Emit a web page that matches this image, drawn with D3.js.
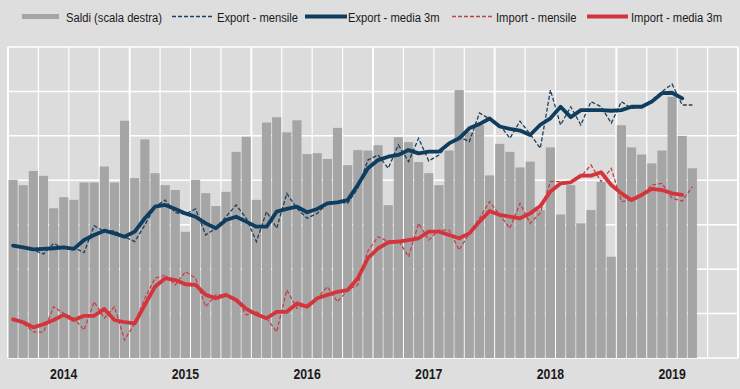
<!DOCTYPE html>
<html>
<head>
<meta charset="utf-8">
<script src="https://cdn.jsdelivr.net/npm/d3@7"></script>
<style>
    html, body { margin: 0; padding: 0; background: #dedede; }
    svg { display: block; }
    text { font-family: "Liberation Sans", Arial, sans-serif; fill: #1a1a1a; }
</style>
</head>
<body>
<div id="chart"></div>
<script>
const years = ["2014", "2015", "2016", "2017", "2018", "2019"];

const saldi = [
    4.01, 3.89, 4.21, 4.10, 3.37, 3.62, 3.56, 3.95, 3.95, 4.31, 3.95, 5.34,
    4.05, 4.92, 4.16, 3.89, 3.78, 2.84, 4.01, 3.71, 3.42, 3.74, 4.64, 4.98,
    3.56, 5.30, 5.42, 5.08, 5.35, 4.59, 4.61, 4.48, 5.18, 4.34, 4.68, 4.67,
    4.79, 3.44, 4.97, 4.86, 4.41, 4.16, 3.89, 4.67, 6.03, 5.09, 5.24, 4.11,
    4.82, 4.64, 4.29, 4.42, 3.33, 4.74, 3.23, 3.89, 3.03, 3.33, 3.96, 2.28,
    5.24, 4.74, 4.58, 4.38, 4.67, 5.88, 5.00, 4.27
];

const exportMensile = [
    33.09, 32.97, 32.86, 32.68, 33.16, 32.94, 32.98, 32.74, 33.96, 33.69, 33.72, 33.46,
    33.24, 33.99, 34.81, 35.11, 34.54, 34.48, 34.71, 33.54, 33.84, 34.36, 34.89, 34.29,
    33.24, 34.59, 33.84, 35.41, 34.74, 34.29, 34.51, 34.96, 35.04, 34.96, 35.64, 36.91,
    37.14, 36.54, 37.59, 36.84, 37.89, 36.87, 37.14, 37.66, 37.96, 37.74, 39.03, 38.76,
    38.49, 37.89, 38.66, 38.08, 37.44, 40.06, 38.49, 39.31, 38.49, 39.54, 39.31, 38.57,
    39.54, 39.24, 39.31, 39.61, 39.99, 40.33, 39.39, 39.39
];

const exportMedia3m = [
    33.06, 32.98, 32.89, 32.91, 32.94, 32.98, 32.91, 33.31, 33.54, 33.73, 33.61, 33.46,
    33.69, 34.29, 34.81, 34.89, 34.71, 34.51, 34.36, 34.06, 33.84, 34.21, 34.36, 34.14,
    33.91, 33.91, 34.59, 34.71, 34.81, 34.56, 34.71, 34.96, 35.01, 35.11, 35.79, 36.54,
    36.91, 37.06, 37.14, 37.36, 37.21, 37.29, 37.29, 37.66, 37.89, 38.34, 38.53, 38.78,
    38.42, 38.31, 38.24, 38.04, 38.50, 38.79, 39.31, 38.84, 39.16, 39.16, 39.16, 39.13,
    39.16, 39.31, 39.31, 39.54, 39.92, 39.94, 39.69, null
];

const importMensile = [
    29.79, 29.56, 29.18, 29.16, 30.31, 30.01, 29.79, 29.26, 30.53, 29.79, 30.31, 28.81,
    29.56, 30.69, 31.59, 31.74, 31.29, 31.89, 31.59, 30.31, 30.84, 30.84, 30.69, 29.94,
    30.08, 29.79, 29.18, 31.06, 30.24, 30.39, 30.69, 31.21, 30.53, 31.06, 31.29, 32.82,
    33.46, 33.24, 33.31, 32.56, 34.06, 33.31, 33.76, 33.76, 32.86, 33.61, 34.29, 35.04,
    34.44, 33.84, 34.96, 34.06, 34.53, 35.94, 35.94, 35.86, 36.16, 36.69, 35.94, 36.54,
    35.04, 35.11, 35.34, 35.79, 35.86, 35.19, 35.07, 35.71
];

const importMedia3m = [
    29.74, 29.61, 29.38, 29.52, 29.71, 29.94, 29.71, 29.90, 29.90, 30.21, 29.71, 29.61,
    29.56, 30.39, 31.21, 31.59, 31.51, 31.32, 31.29, 30.84, 30.69, 30.84, 30.61, 30.21,
    29.97, 29.79, 30.08, 30.08, 30.46, 30.31, 30.69, 30.84, 30.98, 31.06, 31.59, 32.49,
    32.94, 33.21, 33.24, 33.31, 33.39, 33.69, 33.69, 33.54, 33.39, 33.61, 34.14, 34.62,
    34.44, 34.36, 34.29, 34.51, 34.84, 35.50, 35.86, 35.91, 36.21, 36.21, 36.36, 35.79,
    35.41, 35.11, 35.34, 35.61, 35.56, 35.41, 35.34, null
];

const leftTicks = [28, 30, 32, 34, 36, 38, 40, 42];

const legendItems = [
    { label: "Saldi (scala destra)", type: "bar", x: 22, w: 37, tx: 66 },
    { label: "Export - mensile", type: "dash", color: "#1d3f5c", x: 172, w: 41, tx: 217 },
    { label: "Export - media 3m", type: "thick", color: "#0f3d5f", x: 305, w: 42, tx: 348 },
    { label: "Import - mensile", type: "dash", color: "#c0434b", x: 452, w: 40, tx: 496 },
    { label: "Import - media 3m", type: "thick", color: "#d4343c", x: 587, w: 41, tx: 631 }
];

const width = 740;
const height = 389;
const plot = { left: 8, right: 738, top: 47, bottom: 358 };
const narrow = 0.82;

const months = years.flatMap(y => d3.range(12).map(m => `${y}-${m + 1}`));

const x = d3.scaleBand()
    .domain(months)
    .range([plot.left, plot.right])
    .paddingInner(0.1)
    .paddingOuter(0.05);

const yLeft = d3.scaleLinear().domain([28, 42]).range([plot.bottom, plot.top]);
const yRight = d3.scaleLinear().domain([0, 7]).range([plot.bottom, plot.top]);

const svg = d3.select("#chart").append("svg")
    .attr("width", width)
    .attr("height", height);

svg.append("rect")
    .attr("width", width)
    .attr("height", height)
    .attr("fill", "#dedede");

svg.append("rect")
    .attr("x", plot.left)
    .attr("y", plot.top)
    .attr("width", plot.right - plot.left)
    .attr("height", plot.bottom - plot.top)
    .attr("fill", "#dcdcdc");

const step = x.step();
const quarterEdges = d3.range(0, 73, 3).map(i => plot.left + i * step);

const grid = svg.append("g").attr("stroke", "#ffffff");

grid.selectAll("line.h")
    .data(leftTicks)
    .enter()
    .append("line")
    .attr("class", "h")
    .attr("x1", plot.left)
    .attr("x2", plot.right)
    .attr("y1", d => yLeft(d))
    .attr("y2", d => yLeft(d))
    .attr("stroke-width", 1.5);

grid.selectAll("line.v")
    .data(quarterEdges)
    .enter()
    .append("line")
    .attr("class", "v")
    .attr("x1", d => d)
    .attr("x2", d => d)
    .attr("y1", plot.top)
    .attr("y2", plot.bottom)
    .attr("stroke-width", (d, i) => i % 4 === 0 ? 2 : 1.2);

svg.append("g")
    .selectAll("rect")
    .data(saldi)
    .enter()
    .append("rect")
    .attr("x", (d, i) => x(months[i]))
    .attr("y", d => yRight(d))
    .attr("width", x.bandwidth())
    .attr("height", d => plot.bottom - yRight(d))
    .attr("fill", "#a5a5a5");

const cx = i => x(months[i]) + x.bandwidth() / 2;

const line = d3.line()
    .defined(d => d != null)
    .x((d, i) => cx(i))
    .y(d => yLeft(d));

svg.append("path")
    .datum(exportMensile)
    .attr("d", line)
    .attr("fill", "none")
    .attr("stroke", "#1d3f5c")
    .attr("stroke-width", 1.3)
    .attr("stroke-dasharray", "4,2");

svg.append("path")
    .datum(importMensile)
    .attr("d", line)
    .attr("fill", "none")
    .attr("stroke", "#c0434b")
    .attr("stroke-width", 1.3)
    .attr("stroke-dasharray", "4,2");

svg.append("path")
    .datum(exportMedia3m)
    .attr("d", line)
    .attr("fill", "none")
    .attr("stroke", "#0f3d5f")
    .attr("stroke-width", 3.8)
    .attr("stroke-linejoin", "round")
    .attr("stroke-linecap", "round");

svg.append("path")
    .datum(importMedia3m)
    .attr("d", line)
    .attr("fill", "none")
    .attr("stroke", "#d4343c")
    .attr("stroke-width", 3.8)
    .attr("stroke-linejoin", "round")
    .attr("stroke-linecap", "round");

// narrow-looking type: squeeze normal sans horizontally
svg.append("g")
    .selectAll("text")
    .data(years)
    .enter()
    .append("text")
    .attr("transform", (d, i) => `translate(${x(months[i * 12 + 5]) + x.bandwidth() / 2},379) scale(${narrow},1)`)
    .attr("text-anchor", "middle")
    .attr("font-size", "15px")
    .attr("font-weight", "bold")
    .text(d => d);

const legend = svg.append("g");

legendItems.forEach(item => {
    if (item.type === "bar") {
        legend.append("rect")
            .attr("x", item.x)
            .attr("y", 14)
            .attr("width", item.w)
            .attr("height", 5)
            .attr("fill", "#a5a5a5");
    } else {
        legend.append("line")
            .attr("x1", item.x)
            .attr("x2", item.x + item.w)
            .attr("y1", 16.5)
            .attr("y2", 16.5)
            .attr("stroke", item.color)
            .attr("stroke-width", item.type === "thick" ? 3.8 : 1.3)
            .attr("stroke-dasharray", item.type === "dash" ? "4,2" : null);
    }
    legend.append("text")
        .attr("transform", `translate(${item.tx},21.5) scale(${narrow},1)`)
        .attr("font-size", "13.7px")
        .text(item.label);
});
</script>
</body>
</html>
